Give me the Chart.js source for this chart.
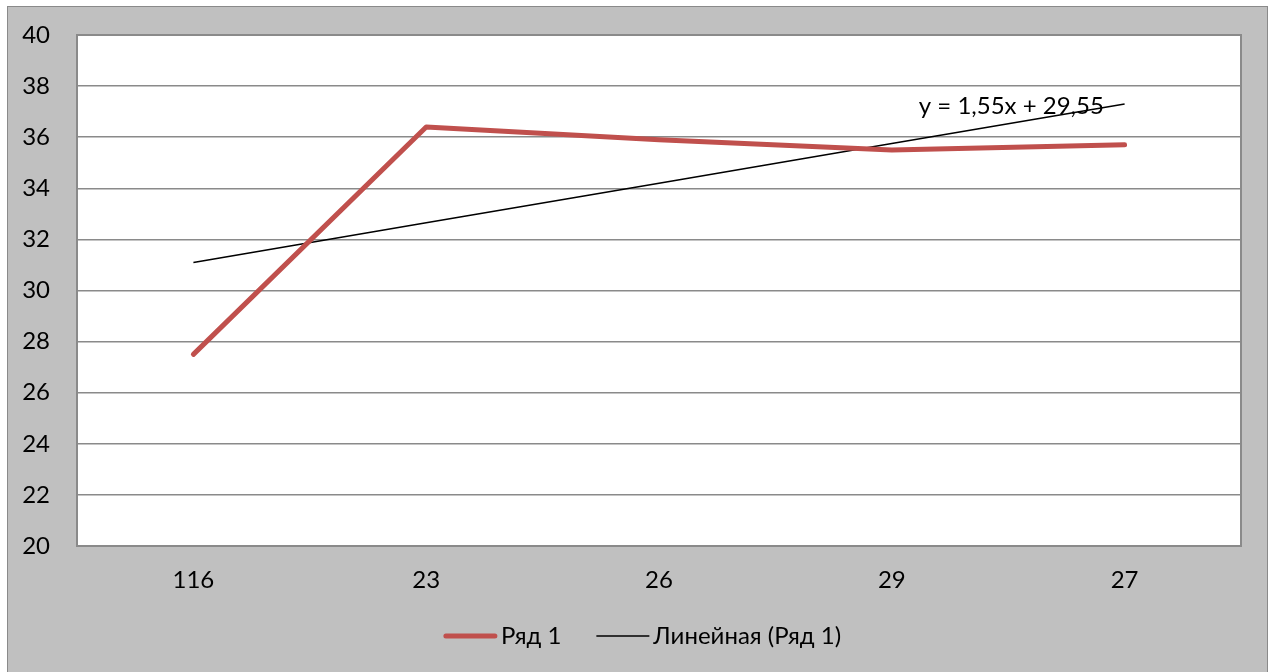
<!doctype html>
<html lang="ru">
<head>
<meta charset="utf-8">
<title>Ряд 1</title>
<script src="https://cdn.jsdelivr.net/npm/chart.js"></script>
<style>
  html, body { margin: 0; padding: 0; background: #ffffff; }
  .moldura {
    position: absolute; left: 7px; top: 6px;
    width: 1259px; height: 670px;
    border: 1px solid #8a8a8a; background: #c0c0c0;
  }
  .moldura canvas { display: block; }
</style>
</head>
<body>
<div class="moldura">
  <canvas id="grafico" width="1259" height="670"></canvas>
</div>
<script>
// dados
var categorias = ['116', '23', '26', '29', '27'];
var ryad1 = [27.5, 36.4, 35.9, 35.5, 35.7];
var tendencia = [31.1, 32.65, 34.2, 35.75, 37.3];
var equacao = 'y = 1,55x + 29,55';

var fonte = "Lato, 'Open Sans', sans-serif";
var tamanho = 24;

// fundo branco da área de plotagem, moldura, equação e legenda
var pluginArea = {
    id: 'pluginArea',
    beforeDraw: function (chart) {
        var a = chart.chartArea, ctx = chart.ctx;
        ctx.save();
        ctx.fillStyle = '#ffffff';
        ctx.fillRect(a.left, a.top, a.right - a.left, a.bottom - a.top);
        ctx.restore();
    },
    afterDatasetsDraw: function (chart) {
        var a = chart.chartArea, ctx = chart.ctx;
        ctx.save();
        ctx.strokeStyle = '#8a8a8a';
        ctx.lineWidth = 2;
        ctx.strokeRect(a.left, a.top, a.right - a.left, a.bottom - a.top);

        // equação da tendência
        var x = chart.scales.x.getPixelForValue(3) + 27;
        var y = chart.scales.y.getPixelForValue(37.2);
        ctx.fillStyle = '#000000';
        ctx.font = tamanho + 'px ' + fonte;
        ctx.textAlign = 'left';
        ctx.textBaseline = 'middle';
        ctx.fillText(equacao, x, y);

        // legenda
        var larguraLinha = 53, espaco = 4, entreItens = 35;
        var itens = chart.data.datasets;
        var total = 0;
        itens.forEach(function (d, i) {
            total += larguraLinha + espaco + ctx.measureText(d.label).width;
            if (i < itens.length - 1) total += entreItens;
        });
        var lx = chart.width / 2 + 5 - total / 2;
        var ly = 629;
        itens.forEach(function (d) {
            ctx.strokeStyle = d.borderColor;
            ctx.lineWidth = d.borderWidth;
            ctx.lineCap = d.borderWidth > 2 ? 'round' : 'butt';
            ctx.beginPath();
            ctx.moveTo(lx + (d.borderWidth > 2 ? 2 : 0), ly);
            ctx.lineTo(lx + larguraLinha - (d.borderWidth > 2 ? 2 : 0), ly);
            ctx.stroke();
            lx += larguraLinha + espaco;
            ctx.fillText(d.label, lx, ly);
            lx += ctx.measureText(d.label).width + entreItens;
        });
        ctx.restore();
    }
};

const ctx = document.getElementById('grafico');

new Chart(ctx, {
    type: 'line',
    data: {
        labels: categorias,
        datasets: [{
            label: 'Ряд 1',
            data: ryad1,
            borderColor: '#c0504d',
            backgroundColor: '#c0504d',
            borderWidth: 5,
            borderCapStyle: 'round',
            borderJoinStyle: 'round',
            pointRadius: 0,
            tension: 0
        }, {
            label: 'Линейная (Ряд 1)',
            data: tendencia,
            borderColor: '#000000',
            backgroundColor: '#000000',
            borderWidth: 1.5,
            pointRadius: 0,
            tension: 0
        }]
    },
    options: {
        responsive: false,
        animation: false,
        layout: { padding: { left: 0, right: 26, top: 28, bottom: 79 } },
        plugins: {
            tooltip: { enabled: false },
            legend: { display: false }
        },
        scales: {
            x: {
                offset: true,
                grid: { display: false, drawTicks: false },
                border: { display: true, color: '#8a8a8a', width: 2 },
                ticks: { color: '#000000', font: { family: fonte, size: tamanho }, padding: 20 },
                afterFit: function (s) { s.height = 52; }
            },
            y: {
                min: 20,
                max: 40,
                ticks: { stepSize: 2, color: '#000000', font: { family: fonte, size: tamanho }, padding: 27 },
                grid: { color: '#8a8a8a', lineWidth: 1.5, drawTicks: false },
                border: { display: true, color: '#8a8a8a', width: 2 },
                afterFit: function (s) { s.width = 69; s.paddingTop = 0; s.paddingBottom = 0; }
            }
        }
    },
    plugins: [pluginArea]
});
</script>
</body>
</html>
